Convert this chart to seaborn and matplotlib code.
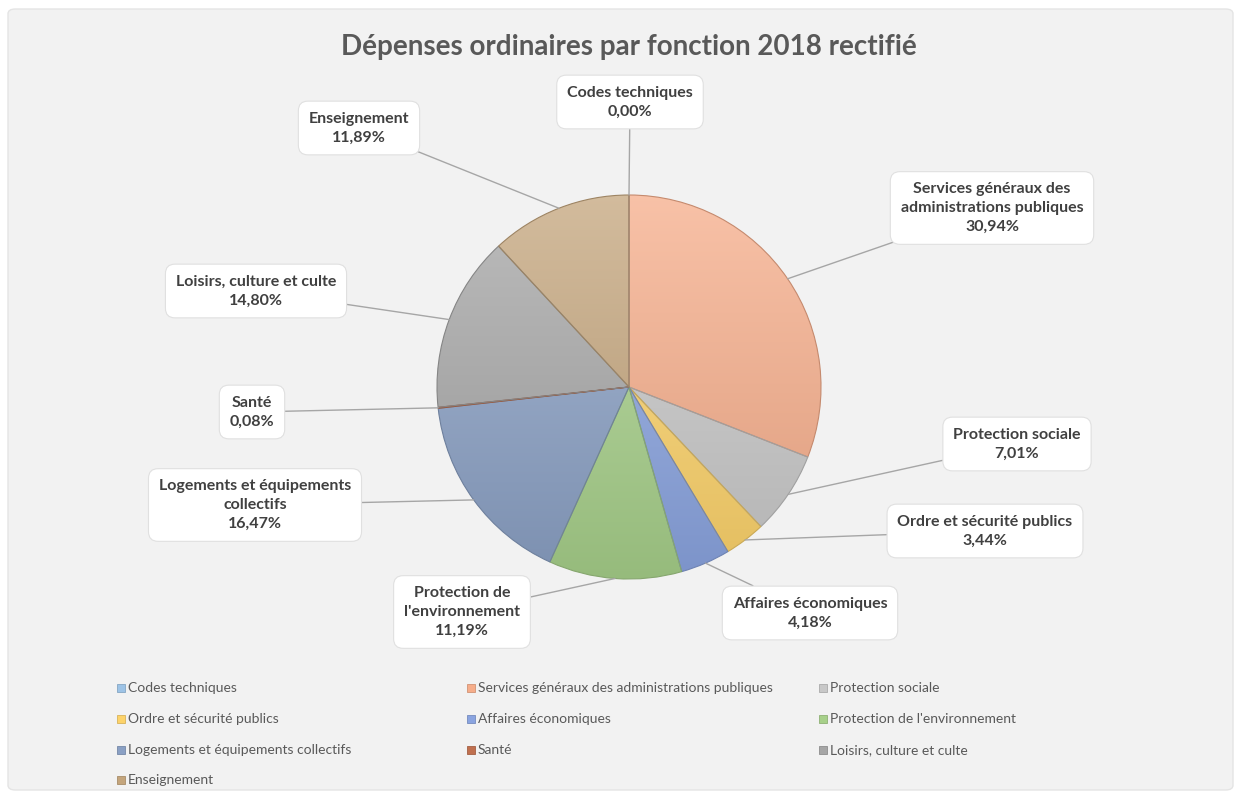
import numpy as np
import matplotlib
matplotlib.use("Agg")
import matplotlib.pyplot as plt
import seaborn as sns
from matplotlib.patches import FancyBboxPatch, Rectangle
from matplotlib.colors import LinearSegmentedColormap, to_rgb

sns.set_theme(style="white")
plt.rcParams['font.family'] = ['Lato', 'DejaVu Sans']

# data
categories = ["Codes techniques", "Services généraux des administrations publiques",
              "Protection sociale", "Ordre et sécurité publics", "Affaires économiques",
              "Protection de l'environnement", "Logements et équipements collectifs",
              "Santé", "Loisirs, culture et culte", "Enseignement"]
label_names = ["Codes techniques", "Services généraux des\nadministrations publiques",
               "Protection sociale", "Ordre et sécurité publics", "Affaires économiques",
               "Protection de\nl'environnement", "Logements et équipements\ncollectifs",
               "Santé", "Loisirs, culture et culte", "Enseignement"]
shares = [0.00, 30.94, 7.01, 3.44, 4.18, 11.19, 16.47, 0.08, 14.80, 11.89]
colors = ["#9dc3e6", "#f6ad8a", "#c8c8c8", "#fdd36a", "#8aa4e0",
          "#a7d08a", "#8aa0c4", "#c0704f", "#a6a6a6", "#c4a57c"]

# label box centres in figure pixels (from top-left)
label_pos = [(630, 102), (992, 208), (1017, 444), (985, 531), (810, 613),
             (462, 612), (255, 505), (252, 412), (256, 291), (359, 128)]

W, H = 1241, 799
fig = plt.figure(figsize=(W / 100, H / 100), dpi=100)
fig.patch.set_facecolor("white")

bg = FancyBboxPatch((8 / W, 9 / H), 1225 / W, 781 / H,
                    boxstyle="round,pad=0,rounding_size=0.006",
                    transform=fig.transFigure, facecolor="#f2f2f2",
                    edgecolor="#e4e4e4", linewidth=1, zorder=-5)
fig.patches.append(bg)

cx, cy, r = 629, 387, 192
ax = fig.add_axes([(cx - r) / W, (H - cy - r) / H, 2 * r / W, 2 * r / H])
ax.set_facecolor("none")
ax.set_zorder(2)

wedges, _ = ax.pie(shares, colors=colors, startangle=90, counterclock=False,
                   radius=1, wedgeprops=dict(linewidth=0.8))

# vertical gradient inside each slice, lighter at the top
grad = np.linspace(0, 1, 256).reshape(-1, 1)
for w, c in zip(wedges, colors):
    base = np.array(to_rgb(c))
    top = base + (1 - base) * 0.25
    bottom = base * 0.9
    cmap = LinearSegmentedColormap.from_list("g", [bottom, top])
    im = ax.imshow(grad, extent=[-1, 1, -1, 1], origin="lower", cmap=cmap,
                   aspect="auto", zorder=w.get_zorder() - 0.1)
    im.set_clip_path(w)
    w.set_facecolor("none")
    w.set_edgecolor(tuple(base * 0.8))

ax.set_xlim(-1, 1)
ax.set_ylim(-1, 1)
ax.set_aspect("equal")
ax.axis("off")

for w, name, v, (px, py) in zip(wedges, label_names, shares, label_pos):
    mid = np.deg2rad((w.theta1 + w.theta2) / 2)
    xy = (np.cos(mid), np.sin(mid))
    txt = f"{name}\n{v:.2f}%".replace(".", ",")
    ax.annotate(txt, xy=xy, xycoords="data", xytext=(px, H - py),
                textcoords="figure pixels", ha="center", va="center",
                fontsize=11.5, fontweight="bold", color="#404040",
                linespacing=1.45, annotation_clip=False,
                bbox=dict(boxstyle="round,pad=0.65,rounding_size=0.6",
                          facecolor="white", edgecolor="#e0e0e0", linewidth=0.8),
                arrowprops=dict(arrowstyle="-", color="#a6a6a6", linewidth=1,
                                shrinkA=0, shrinkB=0))

fig.text(629 / W, 1 - 47 / H, "Dépenses ordinaires par fonction 2018 rectifié",
         ha="center", va="center", fontsize=20, fontweight="bold", color="#595959")

# legend, filled row by row
col_x = [121, 471, 823]
row_y = [688, 719, 750, 780]
for i, (name, c) in enumerate(zip(categories, colors)):
    x = col_x[i % 3]
    y = row_y[i // 3]
    fig.patches.append(Rectangle(((x - 4) / W, (H - y - 4) / H), 8 / W, 8 / H,
                                 transform=fig.transFigure, facecolor=c,
                                 edgecolor=tuple(np.array(to_rgb(c)) * 0.85),
                                 linewidth=0.6))
    fig.text((x + 7) / W, 1 - y / H, name, ha="left", va="center",
             fontsize=10, color="#595959")

fig.savefig("out.png", dpi=100, facecolor="white")
